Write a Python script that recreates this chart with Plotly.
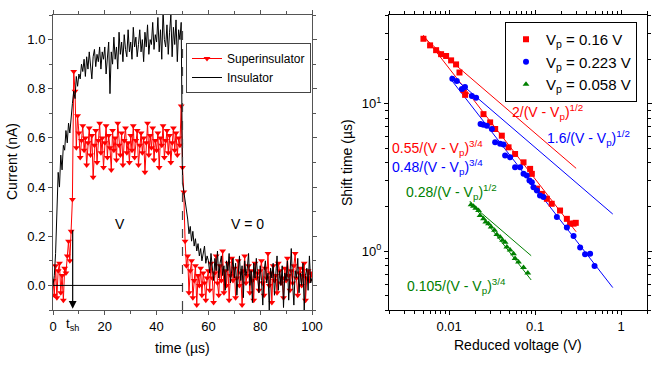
import numpy as np
import plotly.graph_objects as go

# ---------------- Left panel data (time traces) ----------------
t_step = 0.5
time_us = [round(i * t_step, 1) for i in range(201)]

insulator = [
    0.00,0.04,0.13,0.28,0.46,0.40,0.53,0.47,0.57,0.55,0.63,0.58,0.66,0.62,0.70,0.74,0.79,0.76,0.85,0.81,
    0.86,0.84,0.90,0.87,0.92,0.85,0.93,0.88,0.95,0.90,0.84,0.93,0.96,0.89,0.94,0.91,0.97,0.88,0.95,0.92,
    0.97,0.86,0.93,0.99,0.78,0.95,0.90,1.01,0.92,0.97,0.88,1.03,0.94,0.99,0.91,1.02,0.96,0.93,1.04,0.95,
    0.99,0.92,1.05,0.97,1.01,0.93,0.98,1.04,0.95,1.00,0.91,1.03,0.97,1.06,0.94,1.00,0.98,1.07,0.96,1.02,
    0.99,1.09,0.95,1.04,0.92,1.12,1.00,0.97,1.06,0.94,1.03,1.10,0.93,1.05,0.98,1.08,0.91,1.04,1.00,1.07,
    0.42,0.38,0.36,0.30,0.27,0.21,0.24,0.18,0.22,0.16,0.19,0.14,0.17,0.12,0.15,0.10,0.13,0.16,0.09,0.12,
    0.10,0.05,0.13,0.08,0.02,0.11,0.06,0.14,0.03,0.09,0.12,0.04,0.08,-0.02,0.10,0.06,0.13,0.01,0.07,0.11,
    0.03,0.09,-0.04,0.06,0.12,0.02,0.08,-0.05,0.10,0.04,0.07,0.13,0.00,0.06,-0.07,0.09,0.03,0.11,0.05,-0.03,
    0.08,0.02,-0.08,0.06,0.10,0.01,0.05,-0.10,0.07,0.03,0.09,-0.04,0.04,0.12,-0.02,0.06,0.00,0.08,-0.09,0.05,
    0.02,0.10,-0.06,0.04,0.15,0.01,-0.08,0.06,0.03,0.11,-0.03,0.05,0.00,0.09,-0.10,0.04,0.07,-0.02,0.12,0.01,
    0.03,
]

superinsulator = [
    0.02,-0.04,0.08,-0.05,0.06,0.09,-0.03,0.04,-0.06,0.07,
    0.05,0.12,0.18,0.10,0.22,0.35,0.87,0.79,0.56,0.69,
    0.62,0.52,0.59,0.65,0.55,0.60,0.49,0.58,0.64,0.53,0.61,0.44,0.57,0.63,0.50,0.59,0.66,0.54,0.60,0.48,
    0.58,0.65,0.52,0.61,0.56,0.47,0.63,0.55,0.60,0.51,0.66,0.57,0.53,0.62,0.49,0.59,0.64,0.54,0.58,0.50,
    0.61,0.55,0.65,0.52,0.59,0.63,0.49,0.57,0.62,0.54,0.60,0.46,0.58,0.66,0.53,0.61,0.56,0.64,0.51,0.59,
    0.55,0.62,0.48,0.60,0.57,0.65,0.52,0.59,0.63,0.54,0.61,0.50,0.58,0.64,0.55,0.62,0.53,0.60,0.57,0.73,
    0.48,0.38,0.18,0.08,0.12,-0.03,0.06,0.10,-0.05,0.02,0.08,-0.08,0.04,0.00,0.07,-0.04,0.05,0.01,-0.06,0.03,
    0.06,-0.02,0.09,0.03,-0.07,0.05,0.12,0.01,-0.04,0.08,0.02,0.14,-0.03,0.06,0.00,0.09,-0.06,0.04,0.11,0.02,
    0.07,-0.05,0.03,0.10,0.00,0.05,-0.08,0.06,0.12,0.01,0.04,0.08,-0.03,0.06,0.02,-0.06,0.09,0.03,0.05,-0.02,
    0.06,0.10,0.01,-0.04,0.07,0.03,0.13,0.00,0.05,-0.07,0.08,0.02,0.04,-0.03,0.09,0.06,0.01,0.03,-0.05,0.07,
    0.02,0.11,0.04,-0.02,0.06,0.01,0.08,0.13,0.03,-0.04,0.05,0.07,0.00,0.04,0.09,-0.06,0.03,0.06,0.02,0.05,
    0.04,
]

T_SWITCH = 50.0   # voltage switched off
T_SH = 7.6        # shift time marker

# ---------------- Right panel data (shift time vs reduced voltage) ----------------
red_v = [0.00503,0.00601,0.00706,0.00807,0.00923,0.01055,0.01205,0.0132,0.0147,0.01535,
         0.0251,0.030,0.0343,0.041,0.0491,0.0585,0.0733,0.0875,0.0916,0.105,0.12,0.137,0.156,
         0.195,0.234,0.255,0.28,0.297]
red_t = [27.6,24.9,23.1,21.7,21.1,19.7,18.5,16.3,12.4,11.5,
         8.51,7.48,6.75,6.08,5.07,4.57,4.01,3.62,3.35,2.66,2.45,2.27,2.1,
         1.89,1.66,1.54,1.54,1.56]

blue_v = [0.0109,0.0123,0.0141,0.0153,0.0184,0.0206,0.0232,0.025,0.0275,0.0314,0.0343,0.0392,
          0.0429,0.0448,0.0512,0.0585,0.067,0.0733,0.08,0.086,0.0916,0.0957,0.105,0.114,0.125,
          0.179,0.234,0.28,0.334,0.381,0.436,0.491]
blue_t = [14.8,14.3,12.6,13.0,11.3,11.0,7.3,7.2,7.1,6.75,5.49,5.35,
          5.3,4.46,4.34,3.71,3.71,3.35,3.27,3.02,2.94,2.72,2.58,2.39,2.33,
          1.71,1.45,1.27,1.06,0.955,0.964,0.796]

green_v = [0.018,0.0192,0.0204,0.022,0.0229,0.0251,0.0267,0.0287,0.0308,0.0337,0.0359,0.0392,
           0.0418,0.0448,0.0469,0.0512,0.0561,0.0585,0.0641,0.0733,0.0822]
green_t = [2.07,2.02,1.96,1.89,1.75,1.66,1.58,1.54,1.46,1.39,1.30,1.25,
           1.19,1.15,1.07,1.02,0.964,0.893,0.847,0.776,0.713]

# fit laws: coefficient, exponent, v range
fits = [
    dict(a=2.0,   p=0.5,  v=(0.005, 0.3),   color="#ff0000"),
    dict(a=0.55,  p=0.75, v=(0.005, 0.3),   color="#ff0000"),
    dict(a=1.6,   p=0.5,  v=(0.0107, 0.8),  color="#0000ff"),
    dict(a=0.48,  p=0.75, v=(0.0107, 0.8),  color="#0000ff"),
    dict(a=0.28,  p=0.5,  v=(0.0174, 0.09), color="#008000"),
    dict(a=0.105, p=0.75, v=(0.0174, 0.09), color="#008000"),
]

W, H = 664, 369
FONT = "Arial, Liberation Sans, sans-serif"

def px_x(p): return p / W
def px_y(p): return 1 - p / H

fig = go.Figure()

# left traces
fig.add_trace(go.Scatter(x=time_us, y=superinsulator, mode="lines+markers", name="Superinsulator",
                         line=dict(color="#ff0000", width=1),
                         marker=dict(symbol="triangle-down", size=6, color="#ff0000"),
                         xaxis="x", yaxis="y", legend="legend"))
fig.add_trace(go.Scatter(x=time_us, y=insulator, mode="lines", name="Insulator",
                         line=dict(color="#000000", width=1),
                         xaxis="x", yaxis="y", legend="legend"))

# right: fit lines
for f in fits:
    vv = np.logspace(np.log10(f["v"][0]), np.log10(f["v"][1]), 50)
    fig.add_trace(go.Scatter(x=vv, y=f["a"] / vv ** f["p"], mode="lines", showlegend=False,
                             line=dict(color=f["color"], width=1), xaxis="x2", yaxis="y2"))

fig.add_trace(go.Scatter(x=red_v, y=red_t, mode="markers", name="V<sub>p</sub> = 0.16 V",
                         marker=dict(symbol="square", size=6, color="#ff0000"),
                         xaxis="x2", yaxis="y2", legend="legend2"))
fig.add_trace(go.Scatter(x=blue_v, y=blue_t, mode="markers", name="V<sub>p</sub> = 0.223 V",
                         marker=dict(symbol="circle", size=6, color="#0000ff"),
                         xaxis="x2", yaxis="y2", legend="legend2"))
fig.add_trace(go.Scatter(x=green_v, y=green_t, mode="markers", name="V<sub>p</sub> = 0.058 V",
                         marker=dict(symbol="triangle-up", size=6, color="#008000"),
                         xaxis="x2", yaxis="y2", legend="legend2"))

ax_common = dict(showgrid=False, zeroline=False, showline=True, mirror="ticks",
                 ticks="outside", ticklen=4, tickwidth=1, automargin=False,
                 tickfont=dict(family=FONT, size=13, color="#000"))

fig.update_layout(
    width=W, height=H, margin=dict(l=0, r=0, t=0, b=0, autoexpand=False),
    paper_bgcolor="white", plot_bgcolor="white",
    font=dict(family=FONT, color="#000"),
    xaxis=dict(domain=[px_x(53), px_x(312)], range=[0, 100], anchor="y",
               tickvals=[0, 20, 40, 60, 80, 100], linecolor="#555", tickcolor="#555",
               minor=dict(dtick=10, tick0=0, ticks="outside", ticklen=3, tickcolor="#555"),
               **ax_common),
    yaxis=dict(domain=[px_y(310), px_y(15)], range=[-0.1, 1.1], anchor="x",
               tickvals=[0, 0.2, 0.4, 0.6, 0.8, 1.0], tickformat=".1f",
               linecolor="#555", tickcolor="#555",
               minor=dict(dtick=0.1, tick0=0, ticks="outside", ticklen=3, tickcolor="#555"),
               **ax_common),
    xaxis2=dict(domain=[px_x(389), px_x(647)], type="log", range=[np.log10(0.002), np.log10(2)],
                anchor="y2", tickvals=[0.01, 0.1, 1], ticktext=["0.01", "0.1", "1"],
                linecolor="#000", tickcolor="#000",
                minor=dict(tickvals=[0.002,0.003,0.004,0.005,0.006,0.007,0.008,0.009,
                                     0.02,0.03,0.04,0.05,0.06,0.07,0.08,0.09,
                                     0.2,0.3,0.4,0.5,0.6,0.7,0.8,0.9,2],
                           ticks="outside", ticklen=3, tickcolor="#000"),
                **ax_common),
    yaxis2=dict(domain=[px_y(310), px_y(15)], type="log", range=[np.log10(0.4), np.log10(40)],
                anchor="x2", tickvals=[1, 10], ticktext=["10<sup>0</sup>", "10<sup>1</sup>"],
                linecolor="#000", tickcolor="#000",
                minor=dict(tickvals=[0.4,0.5,0.6,0.7,0.8,0.9,2,3,4,5,6,7,8,9,20,30,40],
                           ticks="outside", ticklen=3, tickcolor="#000"),
                **ax_common),
    legend=dict(x=px_x(186), y=px_y(43), xanchor="left", yanchor="top",
                bgcolor="white", bordercolor="#444", borderwidth=1,
                font=dict(family=FONT, size=12, color="#000"),
                tracegroupgap=0, itemwidth=30),
    legend2=dict(x=px_x(505), y=px_y(22), xanchor="left", yanchor="top",
                 bgcolor="white", bordercolor="#000", borderwidth=1,
                 font=dict(family=FONT, size=15, color="#000"),
                 tracegroupgap=0, itemwidth=30),
)

# left panel shapes
fig.add_shape(type="line", xref="x", yref="y", x0=T_SWITCH, x1=T_SWITCH, y0=-0.1, y1=1.07,
              line=dict(color="#444", width=1.2, dash="dash"))
fig.add_shape(type="line", xref="x", yref="y", x0=0, x1=T_SWITCH, y0=0, y1=0,
              line=dict(color="#000", width=1))

anns = []
anns.append(dict(x=T_SH, y=-0.095, ax=T_SH, ay=0.23, xref="x", yref="y", axref="x", ayref="y",
                 showarrow=True, arrowhead=2, arrowsize=1.3, arrowwidth=1.2, arrowcolor="#000", text=""))
anns.append(dict(x=T_SH, y=px_y(324), xref="x", yref="paper", text="t<sub>sh</sub>", showarrow=False,
                 xanchor="center", yanchor="middle", font=dict(size=13)))
anns.append(dict(x=26, y=0.25, xref="x", yref="y", text="V", showarrow=False,
                 xanchor="center", yanchor="middle", font=dict(size=14)))
anns.append(dict(x=75, y=0.25, xref="x", yref="y", text="V = 0", showarrow=False,
                 xanchor="center", yanchor="middle", font=dict(size=14)))

# axis titles
titles = [
    ("time (\u00b5s)", 182, 348, 0),
    ("Current (nA)", 12, 162, -90),
    ("Reduced voltage (V)", 518, 345, 0),
    ("Shift time (\u00b5s)", 347, 162, -90),
]
for txt, tx, ty, ang in titles:
    anns.append(dict(x=px_x(tx), y=px_y(ty), xref="paper", yref="paper", text=txt,
                     showarrow=False, textangle=ang, xanchor="center", yanchor="middle",
                     font=dict(size=14)))

# fit labels
labels = [
    ("2/(V - V<sub>p</sub>)<sup>1/2</sup>", 510, 112, "#ff0000"),
    ("1.6/(V - V<sub>p</sub>)<sup>1/2</sup>", 545, 138, "#0000ff"),
    ("0.55/(V - V<sub>p</sub>)<sup>3/4</sup>", 390, 148, "#ff0000"),
    ("0.48/(V - V<sub>p</sub>)<sup>3/4</sup>", 390, 167, "#0000ff"),
    ("0.28/(V - V<sub>p</sub>)<sup>1/2</sup>", 404, 192, "#008000"),
    ("0.105/(V - V<sub>p</sub>)<sup>3/4</sup>", 405, 286, "#008000"),
]
for txt, lx, ly, col in labels:
    anns.append(dict(x=px_x(lx), y=px_y(ly), xref="paper", yref="paper", text=txt, showarrow=False,
                     xanchor="left", yanchor="middle", font=dict(size=14, color=col)))

fig.update_layout(annotations=anns)
fig.write_html("out.html", config={"displayModeBar": False},
               post_script="document.body.style.margin='0';document.body.style.overflow='hidden';")
